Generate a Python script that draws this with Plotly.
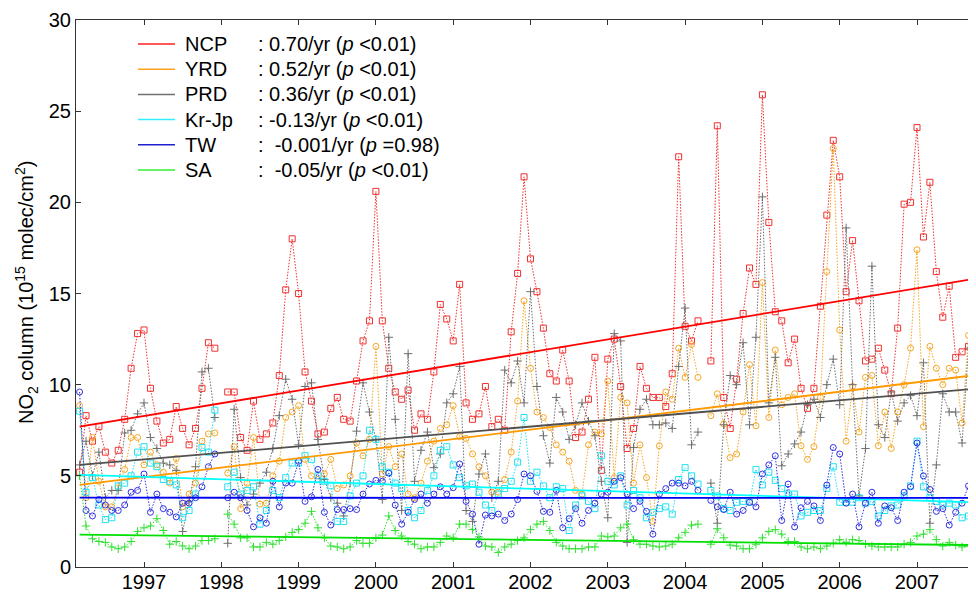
import plotly.graph_objects as go

# ---------------- data (monthly, Mar 1996 onward) ----------------
start_year = 1996
start_month = 3
N = None

ncp = [5.2, 8.3, 6.9, 7.7, 6.3, 5.7, 6.4, 8.1, 10.9, 12.8, 13.0, 9.8, 8.0, 6.8, 7.0, 8.8, 7.6, 6.7, 7.6, 9.8,
       12.3, 12.0, N, 9.6, 9.6, 7.1, 6.4, 9.1, 7.0, 7.3, 7.9, 10.5, 15.2, 18.0, 15.0, 10.7, 9.1, 7.3, 7.4, 8.7,
       9.3, 8.1, 8.0, 10.2, 12.4, 13.5, 20.6, 13.5, 10.9, 9.6, 9.2, 9.7, 7.5, 8.4, 8.1, 10.7, 14.4, 13.6, 12.4, 15.5,
       9.0, 8.1, 8.4, 9.9, 7.7, 8.1, 7.5, 12.9, 16.1, 21.4, 16.9, 15.1, 13.1, 10.6, 10.2, 11.9, 10.2, 7.1, 7.4, 9.2,
       11.5, 5.3, 11.4, 12.5, 9.9, 6.5, 7.6, 11.0, 9.8, 9.3, 9.3, 8.8, 10.6, 22.5, 13.2, 12.4, 13.5, N, 11.3, 24.2,
       9.3, 7.6, 10.3, 13.9, 16.4, 15.5, 25.9, 18.9, 14.0, 13.5, 11.2, 12.5, 9.8, 8.7, 9.8, 14.3, 19.3, 23.4, 21.4, 15.1,
       17.9, 14.6, 11.3, 11.4, 12.0, 10.8, 9.5, 13.1, 19.9, 20.0, 24.1, 18.1, 21.1, 16.2, 13.7, 15.4, 11.5, 11.8, 12.1, 16.1]

yrd = [8.85, 3.8, 7.1, 4.7, 3.3, 3.3, 4.35, 5.35, 7.1, 7.1, 5.6, 6.3, 5.6, 5.2, 4.6, 5.95, 3.3, 4.0, 4.6, 6.9,
       7.3, 7.35, N, 5.15, 6.6, 3.2, 4.6, 7.1, 3.45, 3.5, 5.0, 5.8, 8.2, 8.5, 8.85, 5.9, 5.0, 4.8, 5.1, 5.9,
       4.3, 4.5, 5.0, 6.8, 6.1, 7.0, 12.1, 5.1, 6.6, 5.5, 6.2, 4.0, 3.8, 4.6, 5.8, 6.9, 7.6, 7.8, 8.85, 7.15,
       7.05, 6.2, 5.5, 5.0, 4.1, 4.1, 4.8, 6.3, 9.1, 14.6, 10.9, 8.5, 8.2, 7.65, 6.7, 6.3, 5.8, 4.2, 4.0, 6.7,
       7.4, 7.3, 10.2, 4.9, 9.3, 9.0, 4.6, 6.7, 4.9, 2.5, 6.65, 9.6, 9.2, 12.0, 10.4, 12.2, 10.4, N, 8.3, 9.5,
       7.85, 6.0, 6.2, 8.5, 11.1, 7.75, 15.6, 8.2, 11.9, 8.9, 9.3, 9.5, 6.65, 5.9, 6.6, 9.3, 16.2, 22.95, 13.0, 6.9,
       9.9, 7.4, 10.4, 10.5, 6.65, 8.5, 6.5, 8.5, 10.0, 12.0, 17.4, 7.7, 12.1, 10.9, 10.0, 10.9, 10.8, 7.9, 12.7, 7.5]

prd = [5.6, 6.9, 5.0, 6.3, 3.8, 4.2, 4.2, 7.35, 7.5, 8.4, 9.0, 7.1, 6.5, 5.7, 5.6, 5.3, 1.95, 3.6, 5.5, 10.7,
       10.9, 8.2, N, 1.3, 8.65, 4.9, 3.4, 4.0, 4.6, 5.2, 6.5, 8.3, 10.3, 9.2, 6.7, 9.9, 10.1, 7.0, 4.8, 3.8,
       3.5, 2.8, 4.6, 7.45, 10.1, 8.5, 7.0, 3.7, 12.6, 8.1, 3.1, 11.7, 4.7, 6.4, 7.4, 5.45, 6.2, 9.0, 9.5, 11.0,
       3.1, 2.5, 5.1, 6.2, 3.8, 4.7, 10.8, 10.1, 11.3, 9.0, 15.1, 9.9, 7.2, 5.7, 9.3, 8.5, 7.0, 7.8, 9.0, 8.0,
       7.2, 4.7, 2.7, 12.8, 12.4, 1.35, 6.55, 8.65, 9.2, 7.8, 7.8, 7.9, 7.6, 11.0, 14.2, 6.7, 7.4, N, 4.6, 2.4,
       7.8, 10.5, 10.0, 12.3, 7.8, 12.6, 20.3, 9.0, 11.5, 5.55, 6.2, 6.75, 7.4, 8.9, 9.2, 8.2, 10.0, 11.4, 8.9, 18.6,
       10.0, 3.9, 6.5, 16.5, 7.8, 7.1, 9.6, 8.0, 9.0, 9.4, 8.3, 11.2, 2.4, 5.6, 9.5, 8.5, 8.5, 6.8, 12.0, 9.2]

krjp = [8.55, 4.1, 4.9, 3.4, 2.6, 2.7, 4.45, 4.6, 5.0, 6.3, 6.6, 5.7, 5.5, 4.8, 4.7, 4.5, 2.7, 3.1, 4.0, 6.55,
        6.3, 8.6, N, 4.4, 5.2, 4.0, 4.2, 4.4, 2.35, 3.1, 4.2, 3.8, 4.9, 5.7, 5.7, 6.1, 5.9, 5.0, 4.7, 4.45,
        2.5, 2.5, 3.9, 4.6, 5.0, 7.5, 7.0, 5.5, 5.2, 4.6, 4.3, 3.1, 2.7, 3.1, 4.2, 5.0, 6.4, 6.6, 5.6, 4.9,
        4.45, 4.55, 4.1, 3.4, 3.1, 4.0, 4.3, 4.7, 5.75, 8.2, 4.7, 5.2, 4.45, 3.8, 4.4, 4.3, 2.0, 3.4, 3.9, 3.6,
        3.2, 6.1, 4.7, 4.5, 5.0, 3.4, 4.2, 3.8, 2.7, 3.0, 3.2, 3.3, 2.9, 4.8, 5.45, 5.0, 4.55, N, 4.2, 3.9,
        3.2, 3.1, 3.55, 3.6, 3.55, 5.35, 4.5, 5.2, 4.75, 4.3, 4.0, 4.0, 2.8, 3.0, 3.1, 3.1, 4.3, 5.5, 3.55, 3.55,
        3.55, 3.8, 3.5, 3.6, 2.8, 3.1, 3.35, 3.4, 3.9, 4.45, 6.9, 4.4, 3.8, 3.6, 3.4, 3.5, 3.4, 2.7, 2.8, 3.3]

tw = [9.6, 3.1, 2.8, 3.7, 3.4, 3.1, 3.1, 3.4, 4.1, 4.2, 5.1, 3.0, 4.0, 3.2, 3.0, 2.75, 3.5, 3.5, 3.8, 4.4,
      5.5, 6.2, N, 3.8, 4.1, 3.8, 3.1, 2.2, 2.7, 2.4, 4.7, 3.3, 4.6, 4.6, 5.8, 3.6, 3.85, 5.35, 3.0, 2.3,
      3.15, 3.15, 3.2, 3.15, 4.0, 4.55, 4.75, 4.7, 5.15, 3.4, 2.35, 3.0, 3.7, 4.0, 3.5, 4.0, 4.4, 4.0, 4.35, 5.65,
      3.6, 2.9, 1.25, 2.85, 2.8, 2.9, 2.55, 2.9, 3.7, 5.1, 5.0, 4.15, 3.05, 3.0, 4.2, 2.15, 2.65, 3.2, 2.4, 3.1,
      3.5, 4.0, 4.1, 4.7, 4.9, 4.0, 3.2, 3.6, 3.05, 1.8, 4.0, 4.3, 4.6, 4.6, 4.45, 4.7, 4.2, N, 3.65, 3.3,
      3.15, 4.1, 2.9, 3.1, 3.55, 3.3, 5.1, 5.6, 6.1, 2.55, 4.55, 2.2, 3.25, 3.6, 3.35, 2.55, 4.5, 6.55, 6.2, 3.5,
      4.0, 2.2, 3.5, 4.1, 2.4, 3.35, 3.25, 2.55, 4.1, 4.4, 6.8, 5.0, 4.25, 3.05, 3.2, 2.3, 3.0, 3.5, 4.45, 3.6]

sa = [5.0, 2.25, 1.55, 1.4, 1.35, 1.1, 1.0, 1.1, 1.4, 1.95, 2.15, 2.25, 2.65, 2.0, 1.25, 1.4, 1.15, 1.0, 1.15, 1.45,
      1.45, 1.55, N, 2.9, 2.35, 1.6, 1.6, 1.1, 1.1, 1.35, 1.25, 1.45, 1.65, 1.9, 2.05, 2.4, 3.05, 2.15, 1.6, 1.15,
      1.1, 1.0, 1.1, 1.45, 1.3, 1.3, 1.6, 1.75, 2.8, 2.0, 1.7, 1.4, 1.25, 1.0, 1.1, 1.1, 1.35, 1.7, 1.6, 2.35,
      2.35, 2.05, 1.65, 1.15, 1.1, 0.8, 1.1, 1.25, 1.45, 1.6, 2.05, 2.35, 2.5, 2.0, 1.35, 1.15, 1.0, 1.0, 1.0, 1.1,
      1.1, 1.7, 1.65, 1.7, 2.15, 2.35, 1.5, 1.25, 1.25, 1.15, 1.1, 1.15, 1.25, 1.6, 1.9, 2.3, 2.35, N, 1.25, 2.1,
      1.6, 1.2, 1.15, 1.0, 1.0, 1.25, 1.6, 1.95, 2.05, 1.8, 1.4, 1.4, 1.1, 1.0, 1.1, 1.0, 1.15, 1.3, 1.5, 1.35,
      1.5, 1.45, 1.25, 1.15, 1.1, 1.1, 1.1, 1.1, 1.25, 1.35, 1.7, 1.8, 2.05, 1.5, 1.15, 1.35, 1.2, 1.1, 1.15, 1.1]

regions = ["NCP", "YRD", "PRD", "Kr-Jp", "TW", "SA"]
series = [ncp, yrd, prd, krjp, tw, sa]
trend_slope = [0.70, 0.52, 0.36, -0.13, -0.001, -0.05]       # per year
trend_start = [7.7, 4.5, 5.6, 5.05, 3.8, 1.78]              # value at first month
stat_labels = [": 0.70/yr (<i>p</i> &lt;0.01)",
               ": 0.52/yr (<i>p</i> &lt;0.01)",
               ": 0.36/yr (<i>p</i> &lt;0.01)",
               ": -0.13/yr (<i>p</i> &lt;0.01)",
               ":\u00a0 -0.001/yr (<i>p</i> =0.98)",
               ":\u00a0 -0.05/yr (<i>p</i> &lt;0.01)"]
year_ticks = list(range(1997, 2008))
y_ticks = [0, 5, 10, 15, 20, 25, 30]

# ---------------- styling ----------------
data_colors = ["#F03030", "#F5A623", "#6E6E6E", "#20E0F0", "#3030E0", "#30E030"]
trend_colors = ["#FF0000", "#FF9900", "#505050", "#00FFFF", "#0000EE", "#00E000"]
legend_colors = ["#FF2020", "#FFA020", "#707070", "#30F0FF", "#2020D0", "#30F030"]
symbols = ["square-open", "circle-open", "cross-thin-open", "square-open", "circle-open", "cross-thin-open"]

n = len(ncp)
xs = [start_year + (start_month - 1 + i) / 12 for i in range(n)]

# The page body adds an 8px offset; the figure is sized to fit the window exactly.
OFF = 8
W, H = 976 - OFF, 593 - OFF
ML, MT = 76 - OFF, 20 - OFF
PLOT_BOTTOM = 567 - OFF
MB = H - PLOT_BOTTOM
PW, PH = W - ML, H - MT - MB
px_per_year = 77.3
x0 = 1997 - (144 - 76) / px_per_year
x1 = x0 + PW / px_per_year


def sx(px):  # screen pixel -> paper x
    return (px - OFF - ML) / PW


def sy(py):  # screen pixel -> paper y
    return (PLOT_BOTTOM - (py - OFF)) / PH


FONT = "Liberation Sans, Arial, Helvetica, sans-serif"

fig = go.Figure()
for name, vals, dc, sym in zip(regions, series, data_colors, symbols):
    fig.add_trace(go.Scatter(
        x=xs, y=vals, mode="lines+markers", name=name, showlegend=False,
        line=dict(color=dc, width=1, dash="1.5px,1.5px"),
        marker=dict(symbol=sym, size=6, color=dc, line=dict(color=dc, width=1)),
        connectgaps=False))

for name, s, b, tc in zip(regions, trend_slope, trend_start, trend_colors):
    tx = [xs[0], xs[-1]]
    ty = [b, b + s * (xs[-1] - xs[0])]
    fig.add_trace(go.Scatter(x=tx, y=ty, mode="lines", showlegend=False,
                             line=dict(color=tc, width=1.8)))

# manual legend
row_y0, row_dy = 44, 25.2
for i, (name, lab, lc) in enumerate(zip(regions, stat_labels, legend_colors)):
    yp = sy(row_y0 + i * row_dy)
    fig.add_shape(type="line", xref="paper", yref="paper",
                  x0=sx(138), x1=sx(175), y0=yp, y1=yp,
                  line=dict(color=lc, width=1.5))
    fig.add_annotation(xref="paper", yref="paper", x=sx(183), y=yp,
                       xanchor="left", yanchor="middle", text=name, showarrow=False,
                       font=dict(family=FONT, size=20, color="black"))
    fig.add_annotation(xref="paper", yref="paper", x=sx(256), y=yp,
                       xanchor="left", yanchor="middle", text=lab, showarrow=False,
                       font=dict(family=FONT, size=20, color="black"))

# y-axis title
fig.add_annotation(xref="paper", yref="paper", x=sx(26), y=sy(293),
                   xanchor="center", yanchor="middle", textangle=-90, showarrow=False,
                   text="NO<sub>2</sub> column (10<sup>15</sup> molec/cm<sup>2</sup>)",
                   font=dict(family=FONT, size=20, color="black"))

fig.update_layout(
    width=W, height=H,
    margin=dict(l=ML, r=0, t=MT, b=MB, autoexpand=False),
    paper_bgcolor="white", plot_bgcolor="white",
    font=dict(family=FONT, size=20, color="black"),
    showlegend=False,
)
fig.update_xaxes(range=[x0, x1], tickvals=year_ticks, ticktext=[str(y) for y in year_ticks],
                 ticks="inside", ticklen=5, tickcolor="#333", showgrid=False, zeroline=False,
                 showline=True, linecolor="#333", linewidth=1, mirror="ticks", automargin=False,
                 ticklabelstandoff=-3,
                 tickfont=dict(family=FONT, size=20, color="black"))
fig.update_yaxes(range=[0, 30], tickvals=y_ticks, ticks="inside", ticklen=5, tickcolor="#333",
                 showgrid=False, zeroline=False, showline=True, linecolor="#333", linewidth=1,
                 automargin=False,
                 tickfont=dict(family=FONT, size=20, color="black"))

fig.write_html("out.html")
